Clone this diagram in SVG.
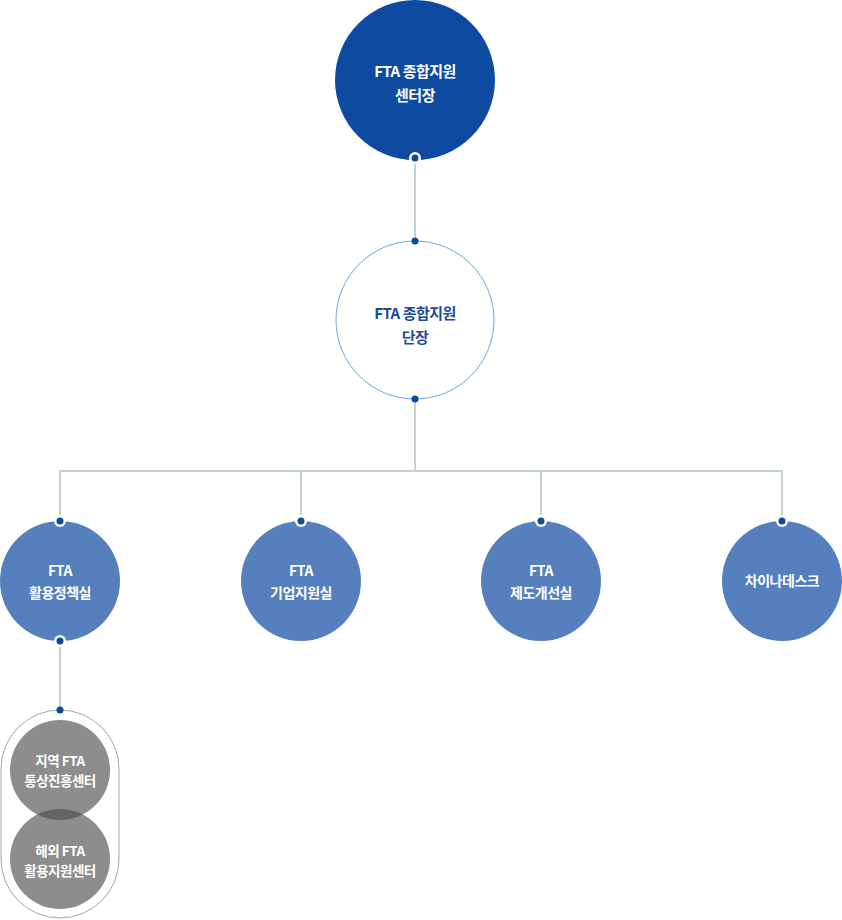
<svg xmlns="http://www.w3.org/2000/svg" width="842" height="920" viewBox="0 0 842 920">
<style>
text{font-family:"Noto Sans CJK KR","Noto Sans",sans-serif;font-weight:700;text-anchor:middle;letter-spacing:-0.5px}
.w{fill:#ffffff}
.t15{font-size:15px}
.t14{font-size:14px}
.t13{font-size:13.5px}
.ln{stroke:#c4d1d9;stroke-width:2;fill:none}
.dot{fill:#0b4a9c}
.ring{fill:#ffffff}
.child{fill:#5580bd}
.gray{fill:#505050;fill-opacity:0.65}
</style>
<g id="connectors">
<line class="ln" x1="415" y1="160" x2="415" y2="241"/>
<polyline class="ln" points="415,399 415,471"/>
<polyline class="ln" points="60,521 60,471 782,471 782,521"/>
<line class="ln" x1="301" y1="471" x2="301" y2="521"/>
<line class="ln" x1="541" y1="471" x2="541" y2="521"/>
<line class="ln" x1="60" y1="641" x2="60" y2="710"/>
</g>
<g id="node-center">
<circle cx="415" cy="80" r="80" fill="#0d4aa0"/>
<text class="w t15" x="415" y="77">FTA 종합지원</text>
<text class="w t15" x="415" y="101">센터장</text>
<circle class="ring" cx="415" cy="158" r="6"/>
<circle class="dot" cx="415" cy="158" r="3.5"/>
</g>
<g id="node-head">
<circle cx="415" cy="320" r="79" fill="#ffffff" stroke="#6fa3f1" stroke-width="1"/>
<text class="t15" x="415" y="319" fill="#1b4c9c">FTA 종합지원</text>
<text class="t15" x="415" y="343" fill="#1b4c9c">단장</text>
<circle class="dot" cx="415" cy="241" r="3.5"/>
<circle class="dot" cx="415" cy="399" r="3.5"/>
</g>
<g id="node-policy">
<circle class="child" cx="60" cy="581" r="60"/>
<text class="w t14" x="60" y="576">FTA</text>
<text class="w t14" x="60" y="598">활용정책실</text>
<circle class="ring" cx="60" cy="521" r="6"/>
<circle class="dot" cx="60" cy="521" r="3.5"/>
<circle class="ring" cx="60" cy="641" r="6"/>
<circle class="dot" cx="60" cy="641" r="3.5"/>
</g>
<g id="node-business">
<circle class="child" cx="301" cy="581" r="60"/>
<text class="w t14" x="301" y="576">FTA</text>
<text class="w t14" x="301" y="598">기업지원실</text>
<circle class="ring" cx="301" cy="521" r="6"/>
<circle class="dot" cx="301" cy="521" r="3.5"/>
</g>
<g id="node-system">
<circle class="child" cx="541" cy="581" r="60"/>
<text class="w t14" x="541" y="576">FTA</text>
<text class="w t14" x="541" y="598">제도개선실</text>
<circle class="ring" cx="541" cy="521" r="6"/>
<circle class="dot" cx="541" cy="521" r="3.5"/>
</g>
<g id="node-china">
<circle class="child" cx="782" cy="581" r="60"/>
<text class="w t14" x="782" y="586">차이나데스크</text>
<circle class="ring" cx="782" cy="521" r="6"/>
<circle class="dot" cx="782" cy="521" r="3.5"/>
</g>
<g id="node-centers">
<rect x="1" y="710" width="118" height="208" rx="59" ry="59" fill="#ffffff" stroke="#90aab2" stroke-width="1"/>
<circle class="dot" cx="60" cy="710" r="3.5"/>
<g id="node-regional">
<circle class="gray" cx="60" cy="770" r="50"/>
<text class="w t13" x="60" y="766">지역 FTA</text>
<text class="w t13" x="60" y="786">통상진흥센터</text>
</g>
<g id="node-overseas">
<circle class="gray" cx="60" cy="859" r="50"/>
<text class="w t13" x="60" y="856">해외 FTA</text>
<text class="w t13" x="60" y="876">활용지원센터</text>
</g>
</g>
</svg>
